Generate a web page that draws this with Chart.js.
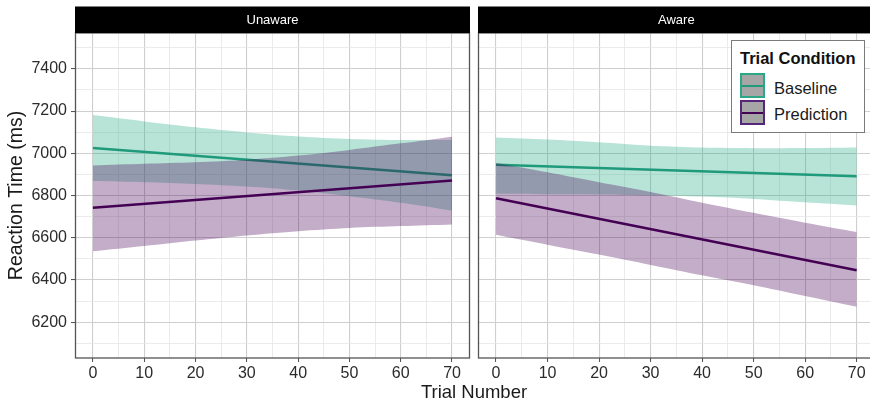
<!DOCTYPE html>
<html>
<head>
<meta charset="utf-8">
<script src="https://cdn.jsdelivr.net/npm/chart.js@4/dist/chart.umd.min.js"></script>
<style>
  html, body { margin: 0; padding: 0; background: #fff; width: 870px; height: 404px; overflow: hidden; }
  body { position: relative; font-family: "Liberation Sans", Arial, sans-serif; }
  #leftWrap { position: absolute; left: 0; top: 0; width: 472px; height: 404px; }
  #rightWrap { position: absolute; left: 476px; top: 0; width: 400px; height: 404px; }
  #xTitle { position: absolute; left: 374px; width: 200px; top: 381px; text-align: center; font-size: 18.5px; color: #1a1a1a; line-height: 22px; }
  #legend { position: absolute; left: 731px; top: 40px; width: 134px; height: 93px; border: 1px solid #7a7a7a; background: #fff; box-sizing: border-box; }
  #legend .title { position: absolute; left: 8px; top: 6px; font-weight: bold; font-size: 16.5px; color: #111; line-height: 22px; white-space: nowrap; }
  #legend .key { position: absolute; left: 8px; width: 25px; height: 25px; box-sizing: border-box; background: #a6a6a6; border: 2px solid; }
  #legend .key::after { content: ""; position: absolute; left: 0; right: 0; top: 9.5px; height: 2px; background: var(--lc); }
  #legend .lab { position: absolute; left: 42px; font-size: 16.5px; color: #1a1a1a; line-height: 20px; white-space: nowrap; }
</style>
</head>
<body>
<div id="leftWrap"><canvas id="cLeft" width="472" height="404"></canvas></div>
<div id="rightWrap"><canvas id="cRight" width="400" height="404"></canvas></div>
<div id="xTitle">Trial Number</div>
<div id="legend">
  <div class="title">Trial Condition</div>
  <div class="key" style="top:32px; border-color:#2aa886; --lc:#1f9a7a;"></div>
  <div class="lab" style="top:37px;">Baseline</div>
  <div class="key" style="top:59px; border-color:#55277a; --lc:#440154;"></div>
  <div class="lab" style="top:63px;">Prediction</div>
</div>
<script>
// ---- Data ----
const panels = ["Unaware", "Aware"];
const conditions = ["Baseline", "Prediction"];
const ribbonX = [0, 10, 20, 30, 40, 50, 60, 70];
const fitX = [0, 70];
const xTickLabels = [0, 10, 20, 30, 40, 50, 60, 70];
const yTickLabels = [6200, 6400, 6600, 6800, 7000, 7200, 7400];

// Unaware panel
const unawareBaselineFit = [7025, 6896];
const unawareBaselineUpper = [7181, 7151, 7123, 7099, 7080, 7068, 7063, 7063];
const unawareBaselineLower = [6869, 6863, 6855, 6843, 6824, 6797, 6766, 6729];
const unawarePredictionFit = [6742, 6871];
const unawarePredictionUpper = [6942, 6950, 6957, 6969, 6989, 7016, 7047, 7079];
const unawarePredictionLower = [6536, 6561, 6587, 6611, 6631, 6646, 6655, 6663];

// Aware panel
const awareBaselineFit = [6946, 6891];
const awareBaselineUpper = [7075, 7065, 7052, 7036, 7027, 7024, 7025, 7028];
const awareBaselineLower = [6808, 6806, 6805, 6800, 6795, 6784, 6768, 6753];
const awarePredictionFit = [6787, 6446];
const awarePredictionUpper = [6954, 6910, 6863, 6817, 6766, 6718, 6671, 6627];
const awarePredictionLower = [6614, 6567, 6520, 6471, 6422, 6375, 6324, 6273];

// ---- Styling ----
const FONT = "'Liberation Sans', Arial, sans-serif";
const lineColors = { Baseline: "#1f9a7a", Prediction: "#440154" };
const fillColors = { Baseline: "rgba(34,168,132,0.32)", Prediction: "rgba(68,1,84,0.32)" };
const GRID_MAJOR = "#cfcfcf";
const GRID_MINOR = "#e6e6e6";
const AXIS_DARK = "#4d4d4d";

function pts(xs, ys) { return xs.map((x, i) => ({ x: x, y: ys[i] })); }

function buildDatasets(series) {
  const ds = [];
  conditions.forEach((cond, ci) => {
    const s = series[cond];
    const baseOrder = (conditions.length - ci) * 2;
    ds.push({ label: cond + " lower", data: pts(ribbonX, s.lower), borderWidth: 0, pointRadius: 0, fill: false, order: baseOrder, backgroundColor: "transparent", borderColor: "transparent", tension: 0.3 });
    ds.push({ label: cond + " upper", data: pts(ribbonX, s.upper), borderWidth: 0, pointRadius: 0, fill: "-1", order: baseOrder, backgroundColor: fillColors[cond], borderColor: "transparent", tension: 0.3 });
    ds.push({ label: cond, data: pts(fitX, s.fit), borderWidth: 2.4, pointRadius: 0, fill: false, order: baseOrder - 1, borderColor: lineColors[cond] });
  });
  return ds;
}

const stripPlugin = {
  id: "strip",
  afterDraw(chart, args, opts) {
    const ca = chart.chartArea, ctx = chart.ctx;
    ctx.save();
    ctx.strokeStyle = "#555";
    ctx.lineWidth = 1.3;
    ctx.strokeRect(ca.left + 0.5, ca.top, ca.right - ca.left - 1, ca.bottom - ca.top);
    ctx.fillStyle = "#000";
    ctx.fillRect(ca.left, 6.5, ca.right - ca.left, ca.top - 6.5);
    ctx.fillStyle = "#fff";
    ctx.font = "13px " + FONT;
    ctx.textAlign = "center";
    ctx.textBaseline = "middle";
    ctx.fillText(opts.text, (ca.left + ca.right) / 2, 20);
    ctx.restore();
  }
};

function makeChart(canvasId, panelName, series, isLeft) {
  const ctx = document.getElementById(canvasId);
  return new Chart(ctx, {
    type: "line",
    data: { datasets: buildDatasets(series) },
    plugins: [stripPlugin],
    options: {
      responsive: false,
      animation: false,
      events: [],
      layout: { padding: isLeft ? { left: 0, right: 2, top: 33, bottom: 0 } : { left: 2, right: 1.3, top: 33, bottom: 0 } },
      plugins: {
        legend: { display: false },
        tooltip: { enabled: false },
        strip: { text: panelName },
        filler: { propagate: false }
      },
      scales: {
        x: {
          type: "linear",
          min: -3.5, max: 73.5,
          afterFit: s => { s.height = 46; },
          border: { display: false },
          grid: {
            color: c => (xTickLabels.includes(c.tick.value) ? GRID_MAJOR : GRID_MINOR),
            lineWidth: c => (xTickLabels.includes(c.tick.value) ? 1.1 : 0.8),
            tickColor: c => (xTickLabels.includes(c.tick.value) ? AXIS_DARK : "rgba(0,0,0,0)"),
            tickLength: 4,
            tickWidth: 1
          },
          ticks: {
            stepSize: 5,
            includeBounds: false,
            autoSkip: false,
            maxRotation: 0,
            padding: 2,
            color: "#2b2b2b",
            font: { family: FONT, size: 16 },
            callback: v => (xTickLabels.includes(v) ? String(v) : "")
          }
        },
        y: {
          type: "linear",
          min: 6030, max: 7570,
          afterFit: s => { s.width = isLeft ? 75 : 0; },
          border: { display: false },
          grid: {
            color: c => (yTickLabels.includes(c.tick.value) ? GRID_MAJOR : GRID_MINOR),
            lineWidth: c => (yTickLabels.includes(c.tick.value) ? 1.1 : 0.8),
            tickColor: c => (isLeft && yTickLabels.includes(c.tick.value) ? AXIS_DARK : "rgba(0,0,0,0)"),
            drawTicks: isLeft,
            tickLength: 4,
            tickWidth: 1
          },
          ticks: {
            display: isLeft,
            stepSize: 100,
            includeBounds: false,
            autoSkip: false,
            padding: 4,
            color: "#2b2b2b",
            font: { family: FONT, size: 16 },
            callback: v => (yTickLabels.includes(v) ? String(v) : "")
          },
          title: {
            display: isLeft,
            text: "Reaction Time (ms)",
            color: "#1a1a1a",
            font: { family: FONT, size: 19.5 },
            padding: { top: 5, bottom: 0 }
          }
        }
      }
    }
  });
}

makeChart("cLeft", panels[0], {
  Baseline: { fit: unawareBaselineFit, upper: unawareBaselineUpper, lower: unawareBaselineLower },
  Prediction: { fit: unawarePredictionFit, upper: unawarePredictionUpper, lower: unawarePredictionLower }
}, true);

makeChart("cRight", panels[1], {
  Baseline: { fit: awareBaselineFit, upper: awareBaselineUpper, lower: awareBaselineLower },
  Prediction: { fit: awarePredictionFit, upper: awarePredictionUpper, lower: awarePredictionLower }
}, false);
</script>
</body>
</html>
